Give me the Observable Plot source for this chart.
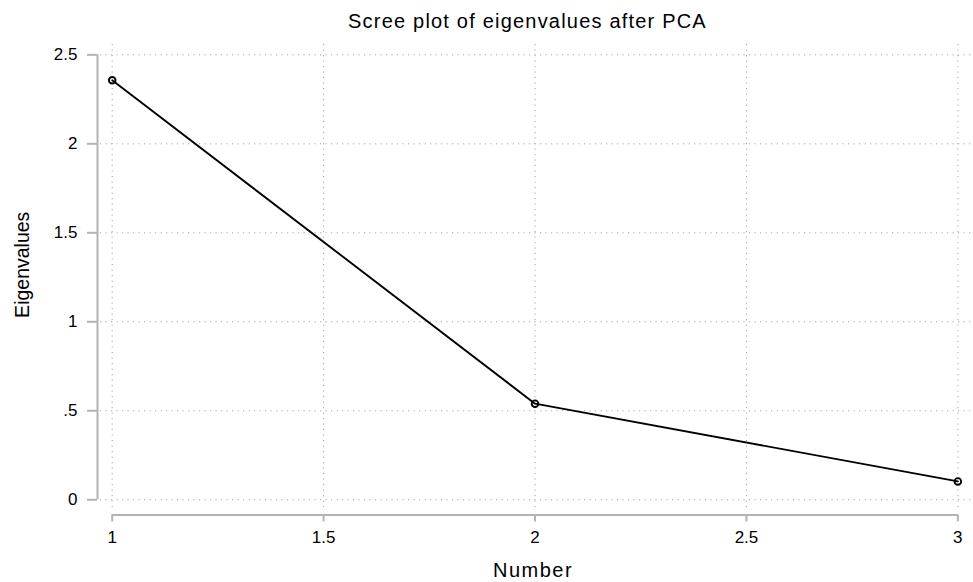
<!DOCTYPE html>
<html><head><meta charset="utf-8">
<script src="https://cdn.jsdelivr.net/npm/d3@7"></script>
<script src="https://cdn.jsdelivr.net/npm/@observablehq/plot@0.6"></script>
<style>
body{margin:0;background:#fff;font-family:"Liberation Sans",Arial,sans-serif;}
#wrap{width:973px;}
#title{height:36px;box-sizing:border-box;padding-top:11px;margin-left:82px;font-size:20px;line-height:20px;text-align:center;color:#000;letter-spacing:1.2px;white-space:nowrap;}
</style></head><body>
<div id="wrap">
<div id="title">Scree plot of eigenvalues after PCA</div>
<div id="chart"></div>
</div>
<script>
const components = [1, 2, 3];
const eigenvalues = [2.357, 0.540, 0.103];
const xTicks = [1, 1.5, 2, 2.5, 3];
const xTickLabels = ["1", "1.5", "2", "2.5", "3"];
const yTicks = [0, 0.5, 1, 1.5, 2, 2.5];
const yTickLabels = ["0", ".5", "1", "1.5", "2", "2.5"];
const xLabel = "Number";
const yLabel = "Eigenvalues";

const data = components.map((c, i) => ({number: c, eigenvalue: eigenvalues[i]}));
const xDomain = [0.9723, 3.037];
const yDomain = [-0.052, 2.558];
const axisGrey = "#b3b3b3";
const gridGrey = "#a6a6a6";

const chart = Plot.plot({
  width: 973,
  height: 546,
  marginLeft: 100,
  marginRight: 0,
  marginTop: 8,
  marginBottom: 73.5,
  x: {domain: xDomain},
  y: {domain: yDomain},
  style: {fontFamily: "'Liberation Sans', Arial, sans-serif", fontSize: "17px", color: "black", background: "white", overflow: "visible"},
  marks: [
    Plot.gridX(xTicks, {stroke: gridGrey, strokeOpacity: 1, strokeWidth: 1, strokeDasharray: "1.2,4.3"}),
    Plot.gridY(yTicks, {stroke: gridGrey, strokeOpacity: 1, strokeWidth: 1, strokeDasharray: "1.2,4.3"}),
    Plot.ruleX([xDomain[0]], {y1: yTicks[0], y2: yTicks[yTicks.length - 1], dx: -3, stroke: axisGrey, strokeWidth: 2}),
    Plot.ruleY([yDomain[0]], {x1: xTicks[0], x2: xTicks[xTicks.length - 1], dy: 6, stroke: axisGrey, strokeWidth: 2}),
    Plot.axisY(yTicks, {anchor: "left", tickSize: 10, tickPadding: 10, dx: -3, stroke: axisGrey, strokeWidth: 2, fill: "black", fontSize: 17, label: null,
      tickFormat: (d) => yTickLabels[yTicks.indexOf(d)]}),
    Plot.axisX(xTicks, {anchor: "bottom", tickSize: 7, tickPadding: 9, dy: 6, stroke: axisGrey, strokeWidth: 2, fill: "black", fontSize: 17, label: null,
      tickFormat: (d) => xTickLabels[xTicks.indexOf(d)]}),
    Plot.line(data, {x: "number", y: "eigenvalue", stroke: "black", strokeWidth: 1.9}),
    Plot.dot(data, {x: "number", y: "eigenvalue", r: 3.3, stroke: "black", strokeWidth: 1.9, fill: "none"}),
    Plot.text([yLabel], {frameAnchor: "left", rotate: -90, dx: -78, dy: -12, fontSize: 19.5, fill: "black", lineAnchor: "middle", textAnchor: "middle"}),
    Plot.text([xLabel], {frameAnchor: "bottom", dx: -4, dy: 62, fontSize: 20, fill: "black", lineAnchor: "middle", textAnchor: "middle"})
  ]
});
d3.select(chart).selectAll("text").filter(function () { return this.textContent === xLabel; }).attr("letter-spacing", "1.5px");
document.getElementById("chart").appendChild(chart);
</script>
</body></html>
